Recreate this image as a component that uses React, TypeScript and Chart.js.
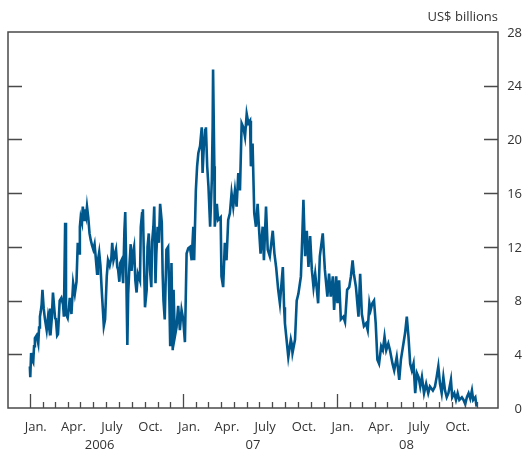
import React, { useEffect, useRef } from 'react';
import { Chart, registerables } from 'chart.js';

Chart.register(...registerables);

// Days since 1 January 2006
const days = [
  0, 1, 3, 5, 8, 10, 12, 16, 20, 22, 24, 26, 28, 30, 33, 36, 40, 43, 45, 48,
  49, 52, 55, 60, 62, 65, 67, 71, 75, 79, 81, 84, 86, 90, 93, 95, 99, 103, 107, 111,
  114, 117, 119, 121, 124, 126, 129, 131, 134, 136, 139, 142, 145, 148, 151, 154, 156, 160, 162, 165,
  168, 171, 174, 176, 179, 183, 186, 190, 194, 196, 199, 202, 205, 208, 210, 213, 215, 218, 222, 225,
  227, 229, 232, 234, 237, 240, 242, 245, 248, 251, 254, 257, 262, 264, 267, 269, 271, 274, 278, 280,
  283, 286, 289, 291, 294, 296, 299, 301, 304, 307, 310, 314, 316, 318, 321, 325, 329, 332, 334, 337,
  340, 342, 345, 349, 353, 357, 361, 365, 369, 373, 377, 381, 385, 389, 391, 395, 398, 401, 405, 409,
  411, 414, 417, 419, 422, 425, 429, 433, 435, 436, 439, 440, 445, 448, 454, 456, 460, 464, 468, 472,
  476, 480, 484, 488, 492, 496, 500, 504, 508, 512, 516, 520, 524, 526, 530, 534, 538, 542, 546, 549,
  554, 557, 562, 566, 571, 578, 582, 586, 591, 595, 602, 605, 607, 615, 621, 623, 625, 631, 635, 639,
  645, 648, 651, 655, 659, 663, 667, 671, 675, 679, 683, 686, 690, 697, 702, 708, 712, 716, 721, 724,
  729, 732, 736, 740, 746, 750, 755, 760, 764, 768, 771, 776, 782, 786, 790, 795, 800, 804, 808, 811,
  815, 819, 823, 827, 831, 836, 840, 844, 848, 853, 857, 863, 867, 873, 879, 883, 889, 893, 897, 901,
  905, 909, 913, 917, 921, 925, 929, 933, 938, 943, 948, 952, 959, 964, 968, 972, 976, 980, 984, 988,
  992, 996, 1002, 1005, 1010, 1014, 1018, 1022, 1028, 1032, 1036, 1040, 1044, 1048, 1052, 1055, 1060, 1063,
];

// US$ billions
const values = [
  3.1, 2.3, 4.1, 3.6, 3.4, 4.6, 5.2, 5.4, 4.8, 6.0, 6.8, 7.2, 7.7, 8.8, 7.4, 6.6, 5.8, 6.7, 6.2, 7.4,
  5.4, 6.6, 8.6, 6.7, 6.6, 5.4, 5.5, 8.0, 8.2, 7.7, 6.8, 13.8, 7.0, 6.7, 7.5, 8.2, 7.0, 9.3, 8.5, 9.4,
  12.3, 11.5, 13.5, 14.2, 13.8, 15.0, 14.0, 14.8, 14.3, 15.0, 14.2, 13.0, 12.5, 12.1, 11.8, 12.2, 11.5, 10.0, 11.0, 11.6,
  10.6, 8.8, 7.2, 6.1, 6.6, 9.8, 11.0, 10.6, 11.2, 12.3, 11.0, 11.4, 11.8, 10.5, 10.3, 9.4, 10.8, 11.0, 9.3, 13.2,
  14.6, 11.0, 4.7, 8.5, 10.6, 12.2, 10.2, 11.5, 12.0, 9.5, 8.6, 10.0, 9.5, 13.5, 14.5, 14.8, 11.8, 7.5, 8.8, 12.0,
  13.0, 10.2, 9.0, 12.4, 13.5, 15.0, 9.3, 11.5, 13.5, 12.3, 15.2, 13.8, 10.0, 8.0, 6.6, 11.8, 12.0, 8.0, 4.6, 10.8,
  4.3, 8.8, 5.3, 6.0, 7.6, 5.8, 7.3, 6.6, 4.9, 11.5, 11.9, 12.0, 11.0, 13.5, 11.0, 16.2, 18.0, 19.0, 19.5, 20.9,
  17.5, 19.5, 20.7, 20.9, 18.0, 16.5, 13.5, 17.0, 21.0, 25.2, 18.0, 13.5, 15.2, 14.0, 14.2, 9.8, 9.0, 12.3, 11.0, 14.0,
  14.5, 16.0, 15.0, 16.2, 15.0, 17.5, 16.2, 21.2, 20.9, 20.2, 21.9, 21.2, 21.4, 18.0, 19.7, 14.5, 13.5, 15.2, 13.0, 11.5,
  13.5, 11.0, 15.0, 11.8, 11.3, 13.2, 11.5, 10.5, 8.8, 7.8, 10.5, 7.5, 6.3, 3.8, 5.1, 4.8, 4.1, 5.1, 8.0, 8.5,
  9.8, 12.5, 15.5, 11.3, 13.2, 10.5, 12.8, 10.3, 9.0, 10.0, 8.8, 7.8, 11.3, 13.0, 10.3, 8.3, 10.0, 8.3, 9.8, 7.3,
  9.8, 7.8, 9.5, 6.6, 6.8, 6.4, 8.8, 9.0, 9.8, 11.0, 10.0, 9.0, 6.8, 10.0, 7.0, 6.1, 6.3, 5.8, 7.8, 7.3,
  7.8, 8.0, 6.3, 3.6, 3.3, 4.6, 4.3, 5.3, 4.3, 4.8, 4.3, 3.3, 2.8, 3.8, 2.1, 3.6, 4.8, 5.6, 6.8, 5.3,
  3.3, 2.8, 3.3, 1.1, 2.6, 2.3, 1.6, 2.3, 1.1, 1.8, 1.1, 1.6, 1.3, 1.6, 2.3, 3.1, 1.8, 1.1, 2.3, 1.3,
  0.8, 1.1, 2.1, 0.8, 1.1, 0.6, 1.1, 0.6, 0.8, 0.6, 0.3, 0.8, 1.1, 0.7, 1.3, 0.6, 0.8, 0.1,
];

const years = [2006, 2007, 2008];
const monthLabels = ['Jan.', 'Apr.', 'July', 'Oct.'];
const labelMonths = [0, 3, 6, 9];
const yearLabels = ['2006', '07', '08'];
const yTicks = [0, 4, 8, 12, 16, 20, 24, 28];
const unitLabel = 'US$ billions';

const X_MIN = -52;
const X_MAX = 1114;

const dayOf = (y: number, m: number, d = 1) =>
  (Date.UTC(y, m, d) - Date.UTC(2006, 0, 1)) / 86400000;

const FONT = '13px "Open Sans", "Noto Sans", sans-serif';
const AXIS_COLOR = '#4a4a4a';
const TEXT_COLOR = '#333333';
const LINE_COLOR = '#00578c';

const axesPlugin = {
  id: 'customAxes',
  afterDraw(chart: any) {
    const { ctx, chartArea: a, scales } = chart;
    const x = scales.x;
    const y = scales.y;
    ctx.save();
    ctx.strokeStyle = AXIS_COLOR;
    ctx.lineWidth = 1.5;
    ctx.strokeRect(a.left, a.top, a.right - a.left, a.bottom - a.top);

    ctx.lineWidth = 1.3;
    ctx.beginPath();
    yTicks.forEach((v) => {
      if (v === 0 || v === 28) return;
      const py = Math.round(y.getPixelForValue(v)) + 0.5;
      ctx.moveTo(a.left, py);
      ctx.lineTo(a.left + 14, py);
      ctx.moveTo(a.right, py);
      ctx.lineTo(a.right - 14, py);
    });
    years.forEach((yr) => {
      for (let m = 0; m < 12; m++) {
        const px = Math.round(x.getPixelForValue(dayOf(yr, m))) + 0.5;
        const len = m === 0 ? 14 : 6;
        ctx.moveTo(px, a.bottom);
        ctx.lineTo(px, a.bottom - len);
      }
    });
    ctx.stroke();

    ctx.fillStyle = TEXT_COLOR;
    ctx.font = FONT;
    ctx.textBaseline = 'middle';

    // y labels
    ctx.textAlign = 'right';
    yTicks.forEach((v) => {
      const py = y.getPixelForValue(v);
      ctx.fillText(String(v), 522, py + 1);
    });
    ctx.fillText(unitLabel, a.right, 17);

    // month labels
    ctx.textAlign = 'center';
    years.forEach((yr, i) => {
      labelMonths.forEach((m, j) => {
        const px = x.getPixelForValue(dayOf(yr, m, 15));
        ctx.fillText(monthLabels[j], px, a.bottom + 19);
      });
      const py = x.getPixelForValue(dayOf(yr, 0) + 166);
      ctx.fillText(yearLabels[i], py, a.bottom + 37);
    });
    ctx.restore();
  },
};

export default function App() {
  const ref = useRef<HTMLCanvasElement | null>(null);

  useEffect(() => {
    if (!ref.current) return;
    const chart = new Chart(ref.current, {
      type: 'line',
      data: {
        datasets: [
          {
            data: days.map((d, i) => ({ x: d, y: values[i] })),
            borderColor: LINE_COLOR,
            borderWidth: 2.6,
            pointRadius: 0,
            tension: 0,
            fill: false,
          },
        ],
      },
      options: {
        animation: false,
        responsive: false,
        devicePixelRatio: 1,
        layout: { padding: { left: 8, top: 32, right: 0, bottom: 0 } },
        plugins: { legend: { display: false }, tooltip: { enabled: false } },
        scales: {
          x: {
            type: 'linear',
            min: X_MIN,
            max: X_MAX,
            grid: { display: false },
            border: { display: false },
            ticks: { display: false },
            afterFit: (s: any) => {
              s.height = 46;
            },
          },
          y: {
            position: 'right',
            min: 0,
            max: 28,
            grid: { display: false },
            border: { display: false },
            ticks: { display: false },
            afterFit: (s: any) => {
              s.width = 25;
            },
          },
        },
      },
      plugins: [axesPlugin],
    });
    return () => chart.destroy();
  }, []);

  return (
    <div style={{ position: 'fixed', left: 0, top: 0, width: 523, height: 454, background: '#fff' }}>
      <canvas ref={ref} width={523} height={454} style={{ width: 523, height: 454 }} />
    </div>
  );
}
